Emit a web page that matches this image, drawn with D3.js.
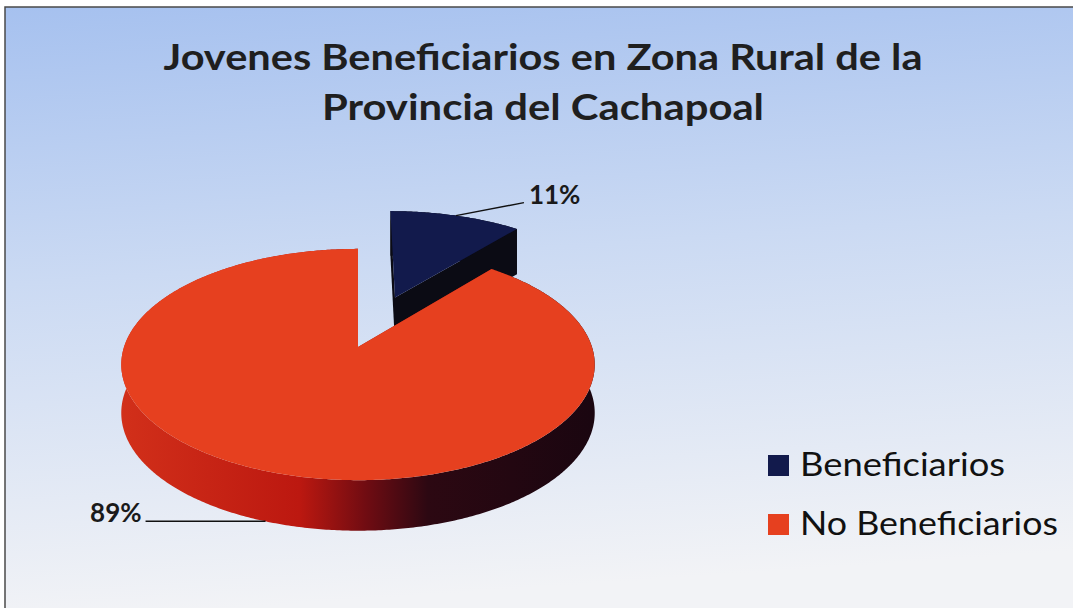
<!DOCTYPE html>
<html>
<head>
<meta charset="utf-8">
<script src="https://cdn.jsdelivr.net/npm/d3@7"></script>
<style>
  body { margin: 0; background: #fff; }
  svg { display: block; }
</style>
</head>
<body>
<script>
// data
const categories = ["Beneficiarios", "No Beneficiarios"];
const values = [11, 89];
const pctLabels = ["11%", "89%"];
const titleLines = ["Jovenes Beneficiarios en Zona Rural de la", "Provincia del Cachapoal"];
const exploded = [0.5, 0];

const topColors = ["#121a4c", "#e6401f"];
const sideColors = ["#0b0b14", "url(#redSide)"];
const legendColors = ["#121a4c", "#e6401f"];

const W = 1073, H = 608;

const svg = d3.select("body").append("svg")
    .attr("width", W)
    .attr("height", H);

const defs = svg.append("defs");
const bg = defs.append("linearGradient").attr("id", "bg")
    .attr("x1", 0).attr("y1", 0).attr("x2", 0.12).attr("y2", 1);
bg.append("stop").attr("offset", 0).attr("stop-color", "#a6c1ef");
bg.append("stop").attr("offset", 0.45).attr("stop-color", "#cbdaf3");
bg.append("stop").attr("offset", 1).attr("stop-color", "#f2f3f6");

const rs = defs.append("linearGradient").attr("id", "redSide")
    .attr("gradientUnits", "userSpaceOnUse")
    .attr("x1", 118).attr("y1", 0).attr("x2", 595).attr("y2", 0);
[[0, "#d2301a"], [0.38, "#bc1810"], [0.52, "#700c12"], [0.65, "#2c0812"], [1, "#1a0610"]]
    .forEach(s => rs.append("stop").attr("offset", s[0]).attr("stop-color", s[1]));

// chart area + border
svg.append("rect").attr("x", 5).attr("y", 7).attr("width", W).attr("height", H)
    .attr("fill", "url(#bg)")
    .attr("stroke", "#4a4a4a").attr("stroke-width", 1.5);

// title
const titleWidths = [759, 442];
svg.append("g").selectAll("text")
    .data(titleLines)
    .join("text")
    .attr("x", 543)
    .attr("y", (d, i) => 70 + i * 50)
    .attr("text-anchor", "middle")
    .attr("font-family", "Lato, 'Open Sans', sans-serif")
    .attr("font-weight", "bold")
    .attr("font-size", 37)
    .attr("textLength", (d, i) => titleWidths[i])
    .attr("lengthAdjust", "spacingAndGlyphs")
    .attr("fill", "#1f1f1f")
    .text(d => d);

// pseudo 3d projection of the pie plane
const cx = 358, cy = 347;
const xs = d3.scaleLinear().domain([-1, 1]).range([-234, 234]);
const zs = d3.scaleLinear().domain([-1, 1]).range([-113, 113]);
const g = 0.1515;
const depth = 48;

function project(X, Z, bottom) {
    const w = 1 - g * Z;
    const y = cy + zs(Z) / w + (bottom ? depth / (1 - 0.05 * Z) : 0);
    return [cx + xs(X) / w, y];
}

const pie = d3.pie().sort(null).startAngle(0).endAngle(2 * Math.PI);
const arcs = pie(values);

function offset(d, i) {
    const mid = (d.startAngle + d.endAngle) / 2;
    return [exploded[i] * Math.sin(mid), -exploded[i] * Math.cos(mid)];
}
function rimPoint(a, off, bottom) {
    return project(Math.sin(a) + off[0], -Math.cos(a) + off[1], bottom);
}
function rim(d, off, bottom, reverse) {
    const n = Math.ceil((d.endAngle - d.startAngle) / 0.01);
    const pts = d3.range(n + 1).map(k => {
        const a = d.startAngle + (d.endAngle - d.startAngle) * k / n;
        return rimPoint(a, off, bottom);
    });
    return reverse ? pts.reverse() : pts;
}

const line = d3.line();
const pieG = svg.append("g");

// back slice first, then front slice
arcs.forEach((d, i) => {
    const off = offset(d, i);
    const sg = pieG.append("g");
    // outer wall
    sg.append("path")
        .attr("d", line(rim(d, off, false).concat(rim(d, off, true, true))) + "Z")
        .attr("fill", sideColors[i]);
    // cut faces
    [d.startAngle, d.endAngle].forEach(a => {
        const c0 = project(off[0], off[1], false), c1 = project(off[0], off[1], true);
        const r0 = rimPoint(a, off, false), r1 = rimPoint(a, off, true);
        sg.append("path")
            .attr("d", line([c0, r0, r1, c1]) + "Z")
            .attr("fill", i === 0 ? sideColors[0] : "#a01810");
    });
    // top face
    sg.append("path")
        .attr("d", line([project(off[0], off[1], false)].concat(rim(d, off, false))) + "Z")
        .attr("fill", topColors[i]);
});

// data labels
const labelFont = "Lato, 'Open Sans', sans-serif";
arcs.forEach((d, i) => {
    const off = offset(d, i);
    const mid = (d.startAngle + d.endAngle) / 2;
    let p, q, tx, anchor;
    if (i === 0) {
        p = rimPoint(mid, off, false);
        q = [p[0] + 68, p[1] - 13];
        tx = q[0] + 5; anchor = "start";
    } else {
        p = rimPoint(mid, off, true);
        q = [p[0] - 120, p[1]];
        tx = q[0] - 4; anchor = "end";
    }
    svg.append("path")
        .attr("d", line([p, q]))
        .attr("stroke", "#111")
        .attr("stroke-width", 1.5)
        .attr("fill", "none");
    svg.append("text")
        .attr("x", tx)
        .attr("y", q[1] + 1)
        .attr("text-anchor", anchor)
        .attr("font-family", labelFont)
        .attr("font-weight", "bold")
        .attr("font-size", 26)
        .attr("fill", "#1a1a1a")
        .text(pctLabels[i]);
});

// legend
const legendWidths = [205, 258];
const legend = svg.append("g").attr("transform", "translate(768,476)");
const item = legend.selectAll("g")
    .data(categories)
    .join("g")
    .attr("transform", (d, i) => `translate(0, ${i * 59})`);
item.append("rect")
    .attr("x", 0).attr("y", -21)
    .attr("width", 21).attr("height", 21)
    .attr("fill", (d, i) => legendColors[i]);
item.append("text")
    .attr("x", 32)
    .attr("y", 0)
    .attr("font-family", labelFont)
    .attr("font-size", 33)
    .attr("textLength", (d, i) => legendWidths[i])
    .attr("lengthAdjust", "spacingAndGlyphs")
    .attr("fill", "#111")
    .text(d => d);
</script>
</body>
</html>
